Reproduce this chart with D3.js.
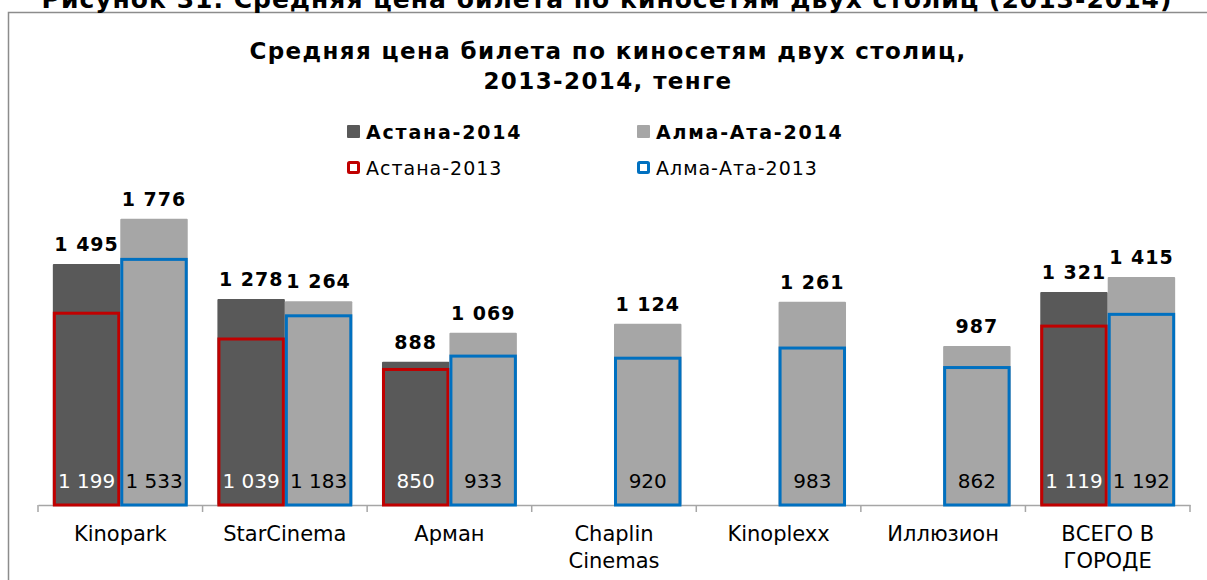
<!DOCTYPE html>
<html>
<head>
<meta charset="utf-8">
<script src="https://cdn.jsdelivr.net/npm/d3@7"></script>
<style>
  body { margin: 0; background: #fff; }
  svg { display: block; font-family: 'DejaVu Sans', Verdana, sans-serif; }
</style>
</head>
<body>
<div id="chart"></div>
<script>
'use strict';

const categories = [['Kinopark'], ['StarCinema'], ['Арман'], ['Chaplin', 'Cinemas'], ['Kinoplexx'], ['Иллюзион'], ['ВСЕГО В', 'ГОРОДЕ']];
const astana2014 = [1495, 1278, 888, null, null, null, 1321];
const almaty2014 = [1776, 1264, 1069, 1124, 1261, 987, 1415];
const astana2013 = [1199, 1039, 850, null, null, null, 1119];
const almaty2013 = [1533, 1183, 933, 920, 983, 862, 1192];

const width = 1207,
  height = 580,
  baseline = 505;

const fmt = d3.formatLocale({ decimal: ',', thousands: ' ', grouping: [3], currency: ['', ''] }).format(',d');

const svg = d3.select('#chart')
  .append('svg')
  .attr('width', width)
  .attr('height', height);

// outer frame, runs past the right and bottom edges
svg.append('rect')
  .attr('x', 8.5).attr('y', 12.5)
  .attr('width', 1210).attr('height', 600)
  .attr('fill', 'none')
  .attr('stroke', '#8c8c8c')
  .attr('stroke-width', 1.5);

// caption cut off at the top
svg.append('text')
  .attr('x', 607).attr('y', 8)
  .attr('text-anchor', 'middle')
  .attr('font-size', 25)
  .attr('letter-spacing', 1)
  .attr('font-weight', 'bold')
  .text('Рисунок 31. Средняя цена билета по киносетям двух столиц (2013-2014)');

svg.append('text')
  .attr('x', 608).attr('y', 59)
  .attr('text-anchor', 'middle')
  .attr('font-size', 23)
  .attr('letter-spacing', 1.4)
  .attr('font-weight', 'bold')
  .text('Средняя цена билета по киносетям двух столиц,');
svg.append('text')
  .attr('x', 608).attr('y', 89)
  .attr('text-anchor', 'middle')
  .attr('font-size', 23)
  .attr('letter-spacing', 1.4)
  .attr('font-weight', 'bold')
  .text('2013-2014, тенге');

const xScale = d3.scaleBand()
  .domain(d3.range(categories.length))
  .range([38, 1190])
  .paddingInner(0)
  .paddingOuter(0);

const sub = d3.scaleBand()
  .domain([0, 1])
  .range([0, xScale.bandwidth()])
  .paddingInner(0)
  .paddingOuter(0.22);

const yScale = d3.scaleLinear()
  .domain([0, 2000])
  .range([baseline, baseline - 322.4]);

// axis line
const xAxis = d3.axisBottom(xScale).tickSize(0).tickFormat('');
const axisG = svg.append('g')
  .attr('transform', `translate(0, ${baseline})`)
  .call(xAxis);
axisG.select('.domain').attr('stroke', '#a6a6a6').attr('stroke-width', 1.5);
axisG.selectAll('.tick').remove();

// category separators
svg.append('g')
  .selectAll('line')
  .data(d3.range(categories.length + 1))
  .enter()
  .append('line')
  .attr('x1', i => i < categories.length ? xScale(i) : xScale(i - 1) + xScale.bandwidth())
  .attr('x2', i => i < categories.length ? xScale(i) : xScale(i - 1) + xScale.bandwidth())
  .attr('y1', baseline)
  .attr('y2', baseline + 7)
  .attr('stroke', '#a6a6a6')
  .attr('stroke-width', 1.5);

// category labels
const catG = svg.append('g');
categories.forEach((lines, i) => {
  lines.forEach((t, j) => {
    catG.append('text')
      .attr('x', xScale(i) + xScale.bandwidth() / 2)
      .attr('y', 541 + j * 27)
      .attr('text-anchor', 'middle')
      .attr('font-size', 21)
      .text(t);
  });
});

const series2014 = [
  { values: astana2014, slot: 0, color: '#595959' },
  { values: almaty2014, slot: 1, color: '#a6a6a6' }
];
const series2013 = [
  { values: astana2013, slot: 0, color: '#c00000', textColor: '#fff' },
  { values: almaty2013, slot: 1, color: '#0070c0', textColor: '#000' }
];

series2014.forEach(s => {
  const data = s.values.map((v, i) => ({ v, i })).filter(d => d.v != null);
  svg.append('g')
    .selectAll('rect')
    .data(data)
    .enter()
    .append('rect')
    .attr('x', d => xScale(d.i) + sub(s.slot))
    .attr('y', d => yScale(d.v))
    .attr('width', sub.bandwidth())
    .attr('height', d => baseline - yScale(d.v))
    .attr('rx', 1)
    .attr('fill', s.color);
});

series2013.forEach(s => {
  const data = s.values.map((v, i) => ({ v, i })).filter(d => d.v != null);
  svg.append('g')
    .selectAll('rect')
    .data(data)
    .enter()
    .append('rect')
    .attr('x', d => xScale(d.i) + sub(s.slot) + 1.5)
    .attr('y', d => yScale(d.v) + 1.5)
    .attr('width', sub.bandwidth() - 3)
    .attr('height', d => baseline - yScale(d.v) - 1.5)
    .attr('fill', 'none')
    .attr('stroke', s.color)
    .attr('stroke-width', 3);

  svg.append('g')
    .selectAll('text')
    .data(data)
    .enter()
    .append('text')
    .attr('x', d => xScale(d.i) + sub(s.slot) + sub.bandwidth() / 2)
    .attr('y', 488)
    .attr('text-anchor', 'middle')
    .attr('font-size', 20)
    .attr('fill', s.textColor)
    .text(d => fmt(d.v));
});

// 2014 labels above bars
series2014.forEach(s => {
  const data = s.values.map((v, i) => ({ v, i })).filter(d => d.v != null);
  svg.append('g')
    .selectAll('text')
    .data(data)
    .enter()
    .append('text')
    .attr('x', d => xScale(d.i) + sub(s.slot) + sub.bandwidth() / 2)
    .attr('y', d => yScale(d.v) - 13)
    .attr('text-anchor', 'middle')
    .attr('font-size', 19)
    .attr('letter-spacing', 1)
    .attr('font-weight', 'bold')
    .text(d => fmt(d.v));
});

// legend
const legend = [
  { label: 'Астана-2014', x: 347, y: 125, fill: '#595959', stroke: null, bold: true },
  { label: 'Алма-Ата-2014', x: 637, y: 125, fill: '#a6a6a6', stroke: null, bold: true },
  { label: 'Астана-2013', x: 347, y: 161, fill: '#fff', stroke: '#c00000', bold: false },
  { label: 'Алма-Ата-2013', x: 637, y: 161, fill: '#fff', stroke: '#0070c0', bold: false }
];
const lg = svg.append('g');
legend.forEach(l => {
  lg.append('rect')
    .attr('x', l.stroke ? l.x + 1.5 : l.x)
    .attr('y', l.stroke ? l.y + 1.5 : l.y)
    .attr('width', l.stroke ? 10 : 13)
    .attr('height', l.stroke ? 10 : 13)
    .attr('rx', 1)
    .attr('fill', l.fill)
    .attr('stroke', l.stroke)
    .attr('stroke-width', l.stroke ? 3 : 0);
  lg.append('text')
    .attr('x', l.x + 19)
    .attr('y', l.y + 13.5)
    .attr('font-size', l.bold ? 19 : 19)
    .attr('letter-spacing', l.bold ? 1.8 : 1)
    .attr('font-weight', l.bold ? 'bold' : 'normal')
    .text(l.label);
});
</script>
</body>
</html>
